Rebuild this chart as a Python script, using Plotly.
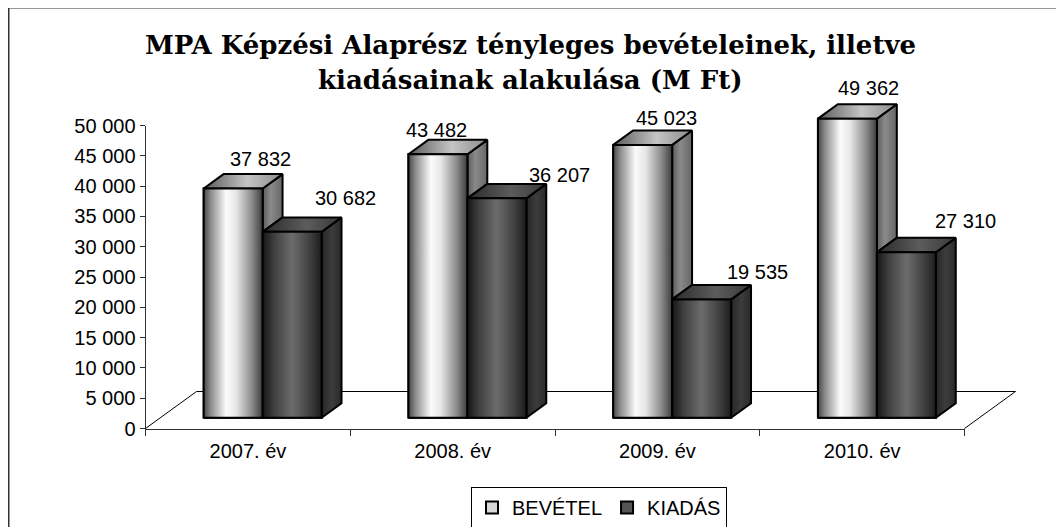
import plotly.graph_objects as go

# ---------------- data ----------------
categories = ["2007. év", "2008. év", "2009. év", "2010. év"]
bevetel = [37832, 43482, 45023, 49362]
kiadas = [30682, 36207, 19535, 27310]
series_names = ["BEVÉTEL", "KIADÁS"]
y_tick_values = [0, 5000, 10000, 15000, 20000, 25000, 30000, 35000, 40000, 45000, 50000]
y_tick_labels = ["0", "5 000", "10 000", "15 000", "20 000", "25 000",
                 "30 000", "35 000", "40 000", "45 000", "50 000"]
title_lines = ["MPA Képzési Alaprész tényleges bevételeinek, illetve",
               "kiadásainak alakulása (M Ft)"]

# ---------------- layout / style ----------------
W, H = 1064, 527
OFF = 8                               # page body margin
FW, FH = W - OFF, H - OFF             # figure size


def fx(p):                            # page pixel -> paper x
    return (p - OFF) / FW


def fy(p):                            # page pixel -> paper y
    return 1 - (p - OFF) / FH


AX_LEFT, AX_RIGHT = 145.5, 964.5
AX_BOTTOM, AX_TOP = 428.5, 125.5
Y_MAX = 50000
n = len(categories)
px_per_cat = (AX_RIGHT - AX_LEFT) / n
px_per_val = (AX_BOTTOM - AX_TOP) / Y_MAX
DEPTH_DX, DEPTH_DY = 51, 37          # pixel offset of floor back edge
D1, D2 = 0.29, 0.68                  # bar front / back depth fraction
BAR_W = 0.288                        # bar width in category units
ddx = DEPTH_DX / px_per_cat
ddy = DEPTH_DY / px_per_val


def proj(cx, v, d):
    return cx + d * ddx, v + d * ddy


# region of the hidden 3-D subplot (same scale as visible axes)
R_LEFT, R_RIGHT, R_TOP, R_BOTTOM = 130, 1045, 40, 445
x2_range = [(R_LEFT - AX_LEFT) / px_per_cat - 0.5, (R_RIGHT - AX_LEFT) / px_per_cat - 0.5]
y2_range = [(AX_BOTTOM - R_BOTTOM) / px_per_val, (AX_BOTTOM - R_TOP) / px_per_val]

FONT = "Liberation Sans, Arial, sans-serif"

front_scales = [
    [[0, "#474747"], [0.12, "#8c8c8c"], [0.38, "#fbfbfb"], [0.55, "#e6e6e6"], [0.82, "#8a8a8a"], [1, "#3c3c3c"]],
    [[0, "#161616"], [0.2, "#404040"], [0.5, "#6c6c6c"], [0.8, "#404040"], [1, "#1c1c1c"]],
]
top_scales = [
    [[0, "#5a5a5a"], [0.55, "#c4c4c4"], [1, "#8c8c8c"]],
    [[0, "#2a2a2a"], [0.55, "#5c5c5c"], [1, "#383838"]],
]
side_scales = [
    [[0, "#5c5c5c"], [0.4, "#8a8a8a"], [1, "#666666"]],
    [[0, "#262626"], [0.5, "#3c3c3c"], [1, "#2a2a2a"]],
]
bar_colors = ["#d8d8d8", "#555555"]
# label offsets (pixels) relative to the back edge centre of each bar top
label_shift = [
    [(7, 15), (-21, 10), (4, 13), (1, 16)],
    [(33, 19), (43, 9), (36, 13), (39, 17)],
]

fig = go.Figure()

# visible axes carrier (front category axis + value axis)
fig.add_trace(go.Scatter(x=categories, y=[0] * n, mode="markers",
                         marker=dict(opacity=0), showlegend=False, hoverinfo="skip"))

values = [bevetel, kiadas]

# real bars = front faces
for s, vals in enumerate(values):
    fig.add_trace(go.Bar(
        x=[i + D1 * ddx for i in range(n)], y=vals, base=D1 * ddy,
        width=BAR_W, offset=-BAR_W if s == 0 else 0,
        marker=dict(color=bar_colors[s], line=dict(color="black", width=2)),
        name=series_names[s], xaxis="x2", yaxis="y2", hoverinfo="skip"))


def poly(pts, scale):
    xs = [p[0] for p in pts] + [pts[0][0]]
    ys = [p[1] for p in pts] + [pts[0][1]]
    return go.Scatter(x=xs, y=ys, mode="lines", fill="toself",
                      fillgradient=dict(type="horizontal", colorscale=scale),
                      line=dict(color="black", width=2),
                      hoverinfo="skip", showlegend=False, xaxis="x2", yaxis="y2")


annotations = []
for i in range(n):
    for s, vals in enumerate(values):
        v = vals[i]
        xl = i - BAR_W + s * BAR_W
        xr = xl + BAR_W
        # side face (only the part not hidden by the neighbour bar)
        vlow = 0
        if s == 0:
            vlow = min(v, kiadas[i])
        side = [proj(xr, vlow, D1), proj(xr, v, D1), proj(xr, v, D2), proj(xr, vlow, D2)]
        fig.add_trace(poly(side, side_scales[s]))
        top = [proj(xl, v, D1), proj(xr, v, D1), proj(xr, v, D2), proj(xl, v, D2)]
        fig.add_trace(poly(top, top_scales[s]))
        front = [proj(xl, 0, D1), proj(xr, 0, D1), proj(xr, v, D1), proj(xl, v, D1)]
        fig.add_trace(poly(front, front_scales[s]))
        ax, ay = proj((xl + xr) / 2, v, D2)
        dx, dy = label_shift[s][i]
        annotations.append(dict(
            x=ax, y=ay, xref="x2", yref="y2", text=f"{v:,}".replace(",", " "),
            showarrow=False, xshift=dx, yshift=dy, xanchor="center", yanchor="middle",
            font=dict(family=FONT, size=20, color="black")))

# title
for k, line in enumerate(title_lines):
    annotations.append(dict(
        x=fx(530), y=fy(45 + 35 * k), xref="paper", yref="paper",
        text=f"<b>{line}</b>", showarrow=False, xanchor="center", yanchor="middle",
        font=dict(family="DejaVu Serif, serif", size=26, color="black")))

# floor outline
fl = proj(-0.5, 0, 0)
bl = proj(-0.5, 0, 1)
br = proj(n - 0.5, 0, 1)
fr = proj(n - 0.5, 0, 0)
shapes = [
    dict(type="path", xref="x2", yref="y2", layer="below",
         path=f"M{fl[0]},{fl[1]} L{bl[0]},{bl[1]} L{br[0]},{br[1]} L{fr[0]},{fr[1]}",
         line=dict(color="black", width=1)),
    dict(type="rect", xref="paper", yref="paper", x0=fx(8.5), x1=1.05, y0=-0.05, y1=fy(7.5),
         line=dict(color="#333333", width=2), layer="below"),
]

fig.update_layout(
    width=FW, height=FH,
    margin=dict(l=0, r=0, t=0, b=0, autoexpand=False),
    paper_bgcolor="white", plot_bgcolor="rgba(0,0,0,0)",
    barmode="overlay",
    showlegend=True,
    legend=dict(orientation="h", x=fx(471), y=fy(487), xanchor="left", yanchor="top",
                bordercolor="black", borderwidth=1, bgcolor="white",
                font=dict(family=FONT, size=20, color="black"),
                itemwidth=30, tracegroupgap=0),
    xaxis=dict(domain=[fx(AX_LEFT), fx(AX_RIGHT)], type="category", categoryarray=categories,
               categoryorder="array", range=[-0.5, n - 0.5], tickson="boundaries",
               ticks="outside", ticklen=6, tickcolor="#333", showline=True, linecolor="#333",
               linewidth=1, showgrid=False, zeroline=False, fixedrange=True,
               ticklabelstandoff=4,
               tickfont=dict(family=FONT, size=20, color="black")),
    yaxis=dict(domain=[fy(AX_BOTTOM), fy(AX_TOP)], range=[0, Y_MAX],
               tickvals=y_tick_values, ticktext=y_tick_labels, ticks="outside", ticklen=5,
               tickcolor="#333", showline=True, linecolor="#333", linewidth=1,
               showgrid=False, zeroline=False, fixedrange=True,
               tickfont=dict(family=FONT, size=20, color="black")),
    xaxis2=dict(domain=[fx(R_LEFT), fx(R_RIGHT)], range=x2_range, visible=False,
                anchor="y2", fixedrange=True),
    yaxis2=dict(domain=[fy(R_BOTTOM), fy(R_TOP)], range=y2_range, visible=False,
                anchor="x2", fixedrange=True),
    annotations=annotations,
    shapes=shapes,
)

fig.write_html("out.html")
